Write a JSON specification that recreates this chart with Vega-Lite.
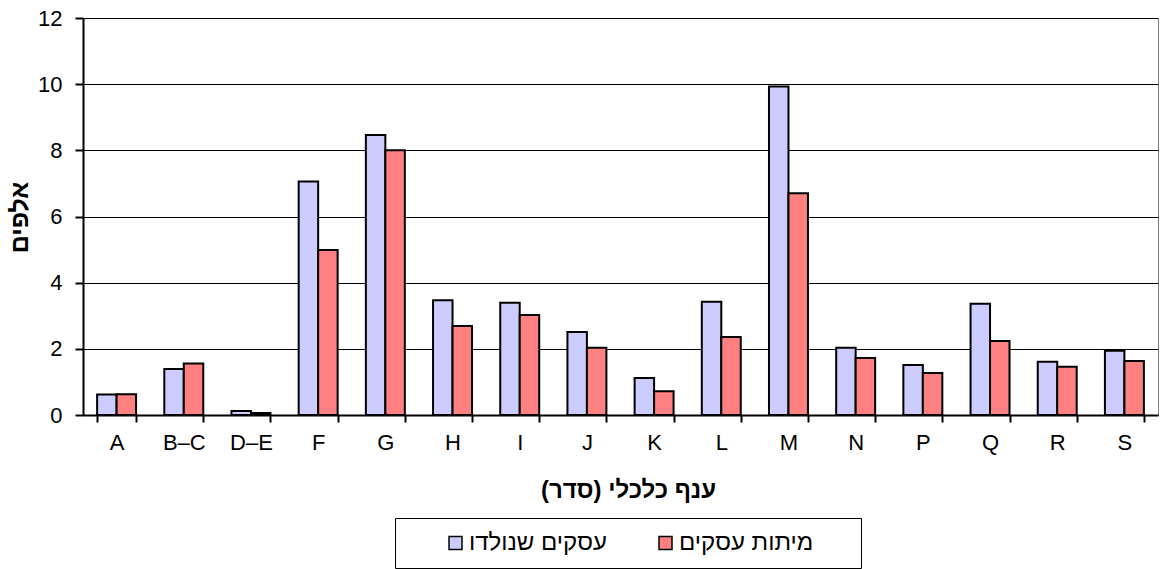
{
  "$schema": "https://vega.github.io/schema/vega-lite/v6.json",
  "autosize": {"type": "none"},
  "width": 1075,
  "height": 397,
  "padding": {"left": 83, "top": 18, "right": 3, "bottom": 154},
  "background": "white",
  "config": {
    "font": "Liberation Sans",
    "view": {"stroke": "#808080", "strokeWidth": 1}
  },
  "data": {
    "values": [
      {"branch": "A", "series": "עסקים שנולדו", "value": 0.62},
      {"branch": "A", "series": "מיתות עסקים", "value": 0.63},
      {"branch": "B–C", "series": "עסקים שנולדו", "value": 1.39},
      {"branch": "B–C", "series": "מיתות עסקים", "value": 1.56},
      {"branch": "D–E", "series": "עסקים שנולדו", "value": 0.12},
      {"branch": "D–E", "series": "מיתות עסקים", "value": 0.06},
      {"branch": "F", "series": "עסקים שנולדו", "value": 7.06},
      {"branch": "F", "series": "מיתות עסקים", "value": 4.99},
      {"branch": "G", "series": "עסקים שנולדו", "value": 8.46},
      {"branch": "G", "series": "מיתות עסקים", "value": 8.0},
      {"branch": "H", "series": "עסקים שנולדו", "value": 3.47},
      {"branch": "H", "series": "מיתות עסקים", "value": 2.69},
      {"branch": "I", "series": "עסקים שנולדו", "value": 3.39},
      {"branch": "I", "series": "מיתות עסקים", "value": 3.02},
      {"branch": "J", "series": "עסקים שנולדו", "value": 2.51},
      {"branch": "J", "series": "מיתות עסקים", "value": 2.03},
      {"branch": "K", "series": "עסקים שנולדו", "value": 1.12},
      {"branch": "K", "series": "מיתות עסקים", "value": 0.72},
      {"branch": "L", "series": "עסקים שנולדו", "value": 3.42},
      {"branch": "L", "series": "מיתות עסקים", "value": 2.36},
      {"branch": "M", "series": "עסקים שנולדו", "value": 9.93},
      {"branch": "M", "series": "מיתות עסקים", "value": 6.7},
      {"branch": "N", "series": "עסקים שנולדו", "value": 2.03},
      {"branch": "N", "series": "מיתות עסקים", "value": 1.72},
      {"branch": "P", "series": "עסקים שנולדו", "value": 1.51},
      {"branch": "P", "series": "מיתות עסקים", "value": 1.27},
      {"branch": "Q", "series": "עסקים שנולדו", "value": 3.36},
      {"branch": "Q", "series": "מיתות עסקים", "value": 2.24},
      {"branch": "R", "series": "עסקים שנולדו", "value": 1.61},
      {"branch": "R", "series": "מיתות עסקים", "value": 1.46},
      {"branch": "S", "series": "עסקים שנולדו", "value": 1.94},
      {"branch": "S", "series": "מיתות עסקים", "value": 1.63}
    ]
  },
  "mark": {"type": "bar", "stroke": "black", "strokeWidth": 2},
  "encoding": {
    "x": {
      "field": "branch",
      "type": "nominal",
      "sort": null,
      "scale": {"paddingInner": 0.42, "paddingOuter": 0.21},
      "axis": {
        "title": "ענף כלכלי (סדר)\u200f",
        "titleFontSize": 24,
        "titleFontWeight": "bold",
        "titleColor": "black",
        "titlePadding": 25,
        "titleX": 545,
        "labelAngle": 0,
        "labelFontSize": 22,
        "labelColor": "black",
        "labelPadding": 10,
        "tickBand": "extent",
        "tickSize": 7,
        "tickColor": "black",
        "tickWidth": 2,
        "domainColor": "black",
        "domainWidth": 2,
        "grid": false
      }
    },
    "xOffset": {"field": "series", "type": "nominal", "sort": ["עסקים שנולדו", "מיתות עסקים"]},
    "y": {
      "field": "value",
      "type": "quantitative",
      "scale": {"domain": [0, 12], "nice": false},
      "axis": {
        "title": "אלפים",
        "titleFontSize": 25,
        "titleFontWeight": "bold",
        "titleColor": "black",
        "titleAngle": -90,
        "titleBaseline": "middle",
        "titleAlign": "center",
        "titleX": -64,
        "titleY": 199,
        "values": [0, 2, 4, 6, 8, 10, 12],
        "labelFontSize": 22,
        "labelColor": "black",
        "labelPadding": 13,
        "tickSize": 8,
        "tickColor": "black",
        "tickWidth": 2,
        "domainColor": "black",
        "domainWidth": 2,
        "gridColor": "black",
        "gridWidth": 1
      }
    },
    "color": {
      "field": "series",
      "type": "nominal",
      "sort": ["עסקים שנולדו", "מיתות עסקים"],
      "scale": {"domain": ["עסקים שנולדו", "מיתות עסקים"], "range": ["#CCCCFF", "#FF8080"]},
      "legend": {
        "title": " ",
        "titleOrient": "right",
        "titlePadding": 36,
        "titleFontSize": 24,
        "orient": "none",
        "legendX": 312,
        "legendY": 500,
        "direction": "horizontal",
        "strokeColor": "black",
        "fillColor": "white",
        "padding": 12,
        "columnPadding": 10,
        "clipHeight": 26,
        "symbolType": "M-1,0M0.519,-0.2407H1V0.2407H0.519Z",
        "symbolSize": 2916,
        "symbolStrokeColor": "black",
        "symbolStrokeWidth": 1.5,
        "labelFontSize": 24,
        "labelColor": "black",
        "labelOffset": 6
      }
    }
  }
}
